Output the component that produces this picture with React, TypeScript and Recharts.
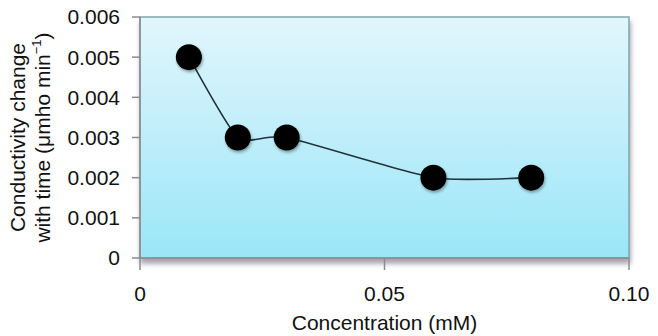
import { LineChart, Line, XAxis, YAxis, ReferenceArea } from 'recharts';

const concentration = [0.01, 0.02, 0.03, 0.06, 0.08];
const conductivity = [0.005, 0.003, 0.003, 0.002, 0.002];
const xTicks = [0, 0.05, 0.1];
const yTicks = [0, 0.001, 0.002, 0.003, 0.004, 0.005, 0.006];

const data = concentration.map((c, i) => ({ c, v: conductivity[i] }));

const FONT = 'Liberation Sans, Arial, Helvetica, sans-serif';
const TENSION = 10;

// light smoothing through the points (catmull-rom with a low tension)
function smoothCurve(context: any) {
  let pts: number[][] = [];
  return {
    areaStart() {},
    areaEnd() {},
    lineStart() {
      pts = [];
    },
    point(x: number, y: number) {
      pts.push([x, y]);
    },
    lineEnd() {
      if (!pts.length) return;
      context.moveTo(pts[0][0], pts[0][1]);
      for (let i = 0; i < pts.length - 1; i++) {
        const p0 = pts[i - 1] || pts[i];
        const p1 = pts[i];
        const p2 = pts[i + 1];
        const p3 = pts[i + 2] || p2;
        context.bezierCurveTo(
          p1[0] + (p2[0] - p0[0]) / TENSION,
          p1[1] + (p2[1] - p0[1]) / TENSION,
          p2[0] - (p3[0] - p1[0]) / TENSION,
          p2[1] - (p3[1] - p1[1]) / TENSION,
          p2[0],
          p2[1]
        );
      }
    },
  };
}

function YTitle(props: any) {
  const vb = props.viewBox || { x: 0, y: 17, height: 241 };
  const cy = vb.y + vb.height / 2;
  return (
    <g transform={`translate(0, ${cy}) rotate(-90)`}>
      <text x={0} y={25} textAnchor="middle" fontSize={21} fontFamily={FONT} fill="#111">
        Conductivity change
      </text>
      <text x={0} y={50} textAnchor="middle" fontSize={21} fontFamily={FONT} fill="#111">
        with time (μmho min
        <tspan dy={-9} fontSize={13}>−1</tspan>
        <tspan dy={9}>)</tspan>
      </text>
    </g>
  );
}

export default function App() {
  return (
    <div style={{ position: 'absolute', left: 0, top: 0, background: '#fff' }}>
      <LineChart
        width={658}
        height={336}
        data={data}
        margin={{ top: 17, right: 29, left: 0, bottom: 0 }}
      >
        <defs>
          <linearGradient id="plotBg" x1="0" y1="0" x2="0" y2="1">
            <stop offset="0%" stopColor="#e2f6fc" />
            <stop offset="100%" stopColor="#9ae6f8" />
          </linearGradient>
          <filter id="plotShadow" x="-5%" y="-5%" width="110%" height="120%">
            <feDropShadow dx="1" dy="5" stdDeviation="2.5" floodColor="#6e6378" floodOpacity="0.6" />
          </filter>
          <filter id="dotShadow" x="-50%" y="-50%" width="200%" height="200%">
            <feDropShadow dx="1" dy="2" stdDeviation="1.5" floodColor="#000" floodOpacity="0.35" />
          </filter>
        </defs>
        <ReferenceArea
          x1={0}
          x2={0.1}
          y1={0}
          y2={0.006}
          fill="url(#plotBg)"
          fillOpacity={1}
          stroke="#7fa7ae"
          strokeWidth={1.5}
          filter="url(#plotShadow)"
          ifOverflow="extendDomain"
        />
        <XAxis
          dataKey="c"
          type="number"
          domain={[0, 0.1]}
          ticks={xTicks}
          tickFormatter={(v: number) => (v === 0 ? '0' : v === 0.1 ? '0.10' : String(v))}
          height={78}
          tickSize={12}
          tickMargin={16}
          stroke="#8c8c8c"
          strokeWidth={1.5}
          tick={{ fill: '#111', fontSize: 21, fontFamily: FONT }}
          label={{
            value: 'Concentration (mM)',
            position: 'insideBottom',
            offset: 6,
            fill: '#111',
            fontSize: 21,
            fontFamily: FONT,
          }}
        />
        <YAxis
          type="number"
          domain={[0, 0.006]}
          ticks={yTicks}
          tickFormatter={(v: number) => (v === 0 ? '0' : v.toFixed(3))}
          width={140}
          tickSize={8}
          tickMargin={12}
          stroke="#8c8c8c"
          strokeWidth={1.5}
          tick={{ fill: '#111', fontSize: 21, fontFamily: FONT }}
          label={{ content: YTitle }}
        />
        <Line
          dataKey="v"
          type={smoothCurve as any}
          stroke="#22323a"
          strokeWidth={1.6}
          dot={{ r: 13, fill: '#000', stroke: 'none', filter: 'url(#dotShadow)' }}
          activeDot={false}
          isAnimationActive={false}
        />
        <text x={458} y={75} textAnchor="middle" fontSize={21} fontFamily={FONT} fill="#111">
          (a)
        </text>
      </LineChart>
    </div>
  );
}
